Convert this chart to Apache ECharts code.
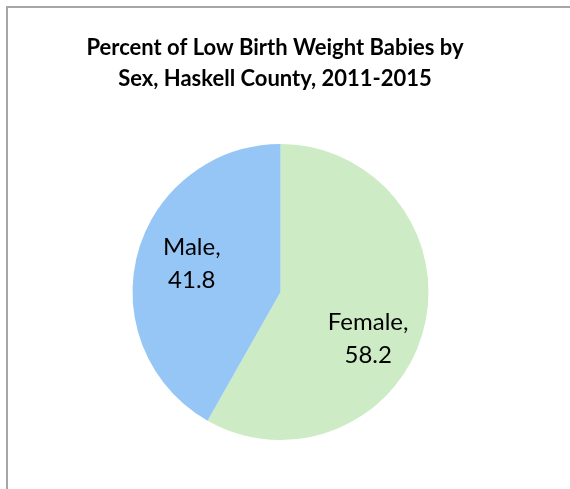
<!DOCTYPE html>
<html>
<head>
<meta charset="utf-8">
<script src="https://cdn.jsdelivr.net/npm/echarts@6/dist/echarts.min.js"></script>
<style>
  html, body { margin: 0; padding: 0; background: #fff; overflow: hidden; }
  #main { width: 570px; height: 489px; }
</style>
</head>
<body>
<div id="main"></div>
<script>
// data
var categories = ['Female', 'Male'];
var values = [58.2, 41.8];
var sliceColors = ['#CDEBC4', '#96C6F5'];

var titleText = 'Percent of Low Birth Weight Babies by\nSex, Haskell County, 2011-2015';

var pieData = categories.map(function (name, i) {
    return { name: name, value: values[i], itemStyle: { color: sliceColors[i] } };
});

var myChart = echarts.init(document.getElementById('main'), null, { renderer: 'canvas' });

// small nudges so the labels sit where Excel put them
var labelNudge = { Female: [-10, 21], Male: [9, -3] };

var option = {
    animation: false,
    title: {
        text: titleText,
        left: 270,
        top: 27,
        textAlign: 'center',
        textStyle: {
            fontFamily: 'Lato',
            fontWeight: 'bold',
            fontSize: 22,
            lineHeight: 31,
            color: '#000'
        }
    },
    graphic: [
        {
            // outer frame of the chart area
            type: 'rect',
            shape: { x: 7, y: 7, width: 700, height: 700 },
            style: { fill: 'none', stroke: '#a6a6a6', lineWidth: 2 },
            silent: true
        }
    ],
    series: [
        {
            // the slices
            type: 'pie',
            center: [280.5, 292],
            radius: [0, 148],
            startAngle: 90,
            clockwise: true,
            silent: true,
            label: { show: false },
            labelLine: { show: false },
            itemStyle: { borderWidth: 0 },
            data: pieData
        },
        {
            // transparent ring, only used to place the labels further out
            type: 'pie',
            center: [280.5, 292],
            radius: [48, 148],
            startAngle: 90,
            clockwise: true,
            silent: true,
            itemStyle: { color: 'rgba(0,0,0,0)', borderWidth: 0 },
            label: {
                show: true,
                position: 'inside',
                formatter: '{b},\n{c}',
                fontFamily: 'Lato',
                fontSize: 24,
                lineHeight: 33,
                color: '#000'
            },
            labelLine: { show: false },
            labelLayout: function (params) {
                var n = labelNudge[categories[params.dataIndex]];
                return { dx: n[0], dy: n[1] };
            },
            data: categories.map(function (name, i) {
                return { name: name, value: values[i] };
            })
        }
    ]
};

myChart.setOption(option);
</script>
</body>
</html>
